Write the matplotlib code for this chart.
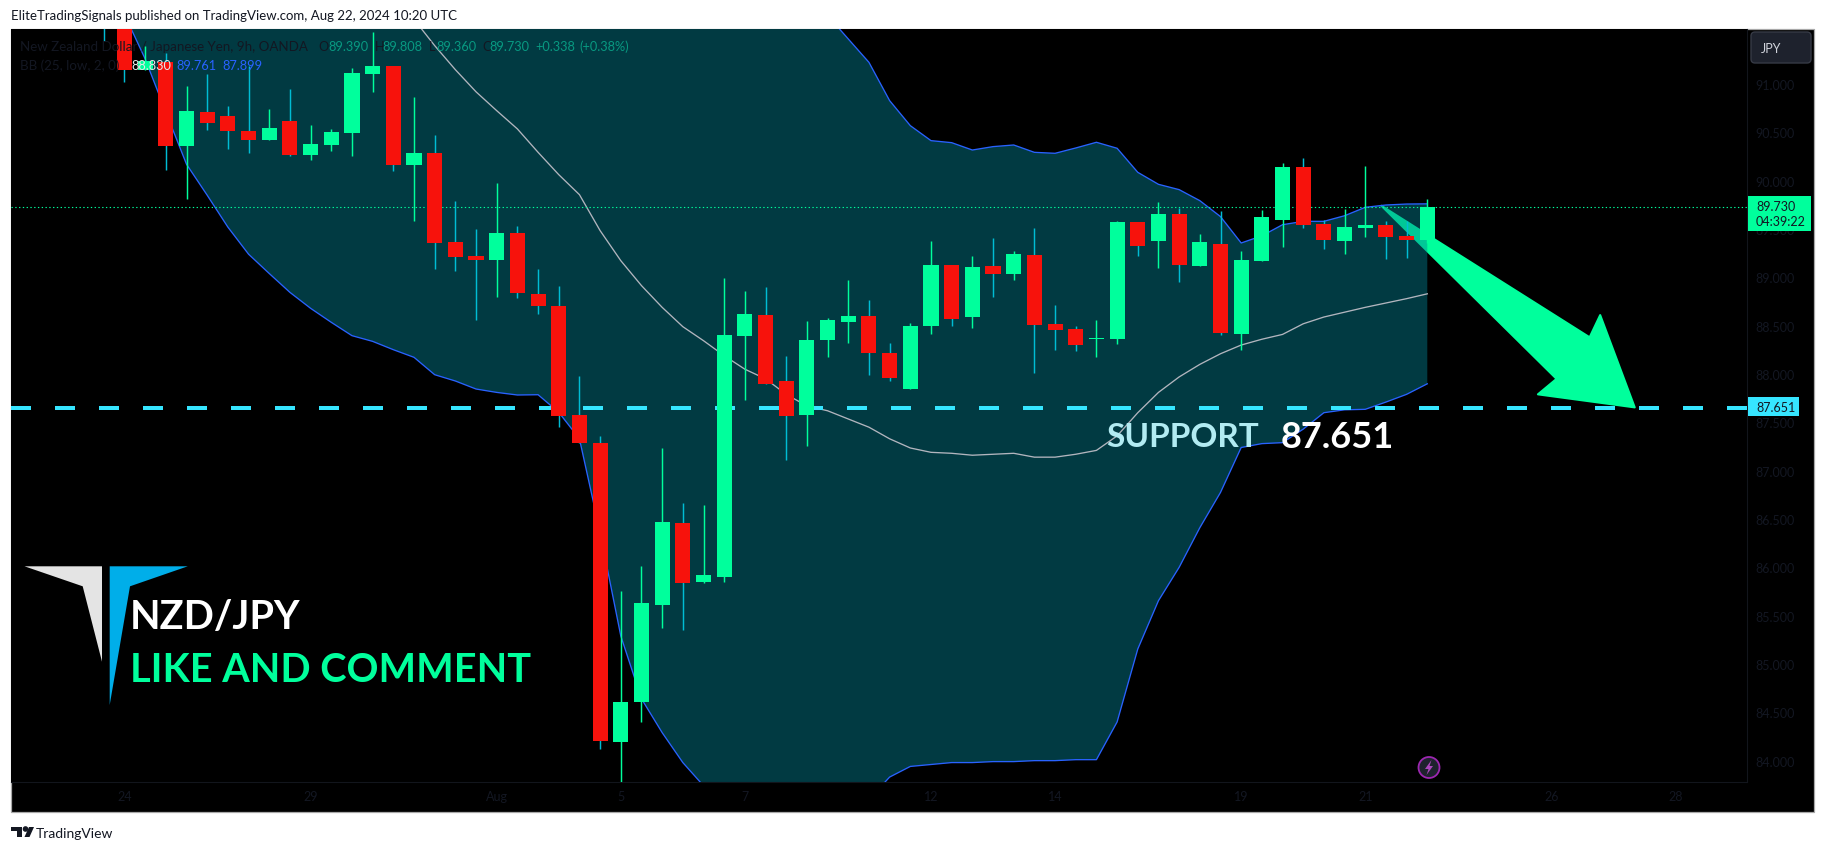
import matplotlib
matplotlib.use("Agg")
import matplotlib.pyplot as plt
from matplotlib.patches import Polygon, Rectangle, Circle, FancyBboxPatch
from matplotlib.transforms import Affine2D

W, H = 1826, 853
GREEN, RED, CYANW = "#00ff9c", "#f7120c", "#00bcd4"
DARK = "#131722"
FILLC = (4/255, 131/255, 147/255, 0.45)
FONT = "Lato"

# candle index 0..64
opens = [92.2, 91.9, 91.149, 91.225, 90.363, 90.71, 90.67, 90.515, 90.425, 90.62, 90.27, 90.37, 90.49,
         91.107, 91.187, 90.166, 90.29, 89.366, 89.22, 89.18, 89.46, 88.83, 88.70, 87.576, 87.285,
         84.196, 84.607, 85.61, 86.46, 85.848, 85.903, 88.394, 88.61, 87.93, 87.576, 88.352, 88.538,
         88.60, 88.218, 87.845, 88.497, 89.128, 88.59, 89.118, 89.035, 89.232, 88.518, 88.466, 88.36,
         88.362, 89.573, 89.376, 89.656, 89.118, 89.345, 88.414, 89.17, 89.594, 90.142, 89.552, 89.376,
         89.51, 89.542, 89.428, 89.39]
closes = [91.8, 91.149, 91.24, 90.363, 90.72, 90.60, 90.51, 90.425, 90.545, 90.27, 90.38, 90.50, 91.115,
          91.187, 90.166, 90.29, 89.36, 89.215, 89.18, 89.46, 88.84, 88.70, 87.57, 87.285, 84.206,
          84.607, 85.63, 86.47, 85.84, 85.92, 88.404, 88.62, 87.90, 87.566, 88.352, 88.559, 88.60,
          88.218, 87.96, 88.497, 89.128, 88.569, 89.107, 89.035, 89.242, 88.507, 88.456, 88.30, 88.372,
          89.573, 89.325, 89.656, 89.13, 89.366, 88.425, 89.18, 89.625, 90.142, 89.545, 89.387, 89.521,
          89.542, 89.418, 89.387, 89.73]
highs = [92.3, 92.0, 91.39, 91.32, 90.977, 91.10, 90.77, 91.19, 90.74, 90.95, 90.58, 90.535, 91.17,
         91.535, 91.187, 90.866, 90.47, 89.79, 89.50, 89.98, 89.53, 89.09, 88.91, 87.98, 87.355,
         85.755, 86.013, 87.23, 86.67, 86.65, 88.99, 88.855, 88.90, 88.19, 88.545, 88.58, 88.97,
         88.766, 88.32, 88.528, 89.376, 89.128, 89.22, 89.407, 89.273, 89.51, 88.714, 88.497, 88.559,
         89.583, 89.573, 89.78, 89.717, 89.45, 89.687, 89.273, 89.697, 90.183, 90.235, 89.594, 89.707,
         90.152, 89.583, 89.583, 89.808]
lows = [91.45, 91.018, 91.149, 90.115, 89.81, 90.53, 90.33, 90.29, 90.425, 90.26, 90.21, 90.31, 90.26,
        90.92, 90.10, 89.58, 89.09, 89.07, 88.56, 88.80, 88.79, 88.62, 87.455, 87.285, 84.12,
        83.78, 84.40, 85.37, 85.355, 85.835, 85.85, 87.735, 87.90, 87.114, 87.26, 88.176, 88.32,
        87.99, 87.93, 87.845, 88.414, 88.497, 88.476, 88.797, 88.973, 88.01, 88.249, 88.24, 88.176,
        88.31, 89.22, 89.097, 88.95, 89.118, 88.404, 88.25, 89.17, 89.314, 89.514, 89.294, 89.242,
        89.418, 89.19, 89.20, 89.36]

# Bollinger bands, candle index 1..64
upper = [92.6] * 33 + [92.0, 91.71, 91.467, 91.225, 90.829, 90.57, 90.415, 90.394, 90.318, 90.353, 90.37,
                       90.294, 90.284, 90.339, 90.398, 90.336, 90.087, 89.963, 89.908, 89.794, 89.629,
                       89.356, 89.43, 89.545, 89.58, 89.58, 89.638, 89.725, 89.749, 89.759, 89.761]
lower = [91.72, 91.26, 90.71, 90.17, 89.85, 89.52, 89.24, 89.04, 88.845, 88.68, 88.535, 88.397, 88.338,
         88.252, 88.173, 87.993, 87.928, 87.845, 87.81, 87.783, 87.786, 87.604, 87.33, 86.36, 85.29,
         84.64, 84.29, 83.98, 83.74, 83.5, 83.4, 83.3, 83.25, 83.25, 83.3, 83.4, 83.6, 83.83, 83.94,
         83.96, 83.98, 83.98, 83.99, 83.99, 84.0, 84.0, 84.01, 84.01, 84.40, 85.155, 85.655, 86.0,
         86.41, 86.775, 87.24, 87.28, 87.29, 87.43, 87.6, 87.63, 87.635, 87.71, 87.79, 87.899]
# basis, candle index 14..64
basis = [91.95, 91.67, 91.398, 91.149, 90.92, 90.725, 90.536, 90.294, 90.063, 89.856, 89.484, 89.173,
         88.915, 88.69, 88.49, 88.345, 88.19, 88.05, 87.95, 87.79, 87.67, 87.62, 87.535, 87.45, 87.33,
         87.235, 87.19, 87.18, 87.16, 87.17, 87.18, 87.14, 87.14, 87.17, 87.21, 87.36, 87.60, 87.81,
         87.97, 88.10, 88.21, 88.30, 88.36, 88.41, 88.52, 88.59, 88.64, 88.69, 88.735, 88.78, 88.83]

support = 87.651
last_price = 89.73
price_ticks = [84 + 0.5 * k for k in range(15)]
time_pos = [1, 10, 19, 25, 31, 40, 46, 55, 61, 70, 76]
time_labels = ["24", "29", "Aug", "5", "7", "12", "14", "19", "21", "26", "28"]
arrow_i = [61.78, 71.85, 72.36, 74.03, 69.35, 70.25]
arrow_p = [89.741, 88.38, 88.61, 87.655, 87.79, 87.95]

fig = plt.figure(figsize=(W / 100, H / 100), dpi=100, facecolor="white")
px = Affine2D().scale(1, -1).translate(0, H)

def poly(points, color, z=6, **kw):
    fig.add_artist(Polygon(points, closed=True, facecolor=color, edgecolor="none", transform=px, zorder=z, **kw))

def label(x, y, s, color=DARK, size=9.5, ha="left", family=FONT, weight="normal", z=8):
    return fig.text(x, y, s, transform=px, color=color, fontsize=size, ha=ha, va="center",
                    family=family, fontweight=weight, zorder=z)

# outer frame
fig.add_artist(Rectangle((11, 30), 1803, 783, transform=px, facecolor="black",
                         edgecolor="#a8a8a8", linewidth=0.9, zorder=-1))

ax = fig.add_axes([11 / W, (H - 783) / H, 1736 / W, 753 / H], facecolor="black")
ax.set_xlim(-4.488, 79.46)
ax.set_ylim(83.779, 91.570)

xs = list(range(len(opens)))
band_x = list(range(1, 65))
basis_x = list(range(14, 65))

ax.fill(arrow_i, arrow_p, color=GREEN, lw=1.5, joinstyle="round", zorder=1)
ax.fill_between(band_x, lower, upper, color=FILLC, lw=0, zorder=2)
ax.plot(band_x, upper, color="#2962ff", lw=0.95, zorder=3)
ax.plot(band_x, lower, color="#2962ff", lw=0.95, zorder=3)
ax.plot(basis_x, basis, color="#b2b5be", lw=0.95, zorder=3)

ax.axhline(last_price, color=GREEN, lw=0.8, linestyle=(0, (1.2, 2.2)), zorder=3.2)
ax.plot(ax.get_xlim(), [support, support], color="#36e5ff", lw=2.88, linestyle=(0, (5, 6)),
        dash_capstyle="butt", zorder=3.3)

cols = [GREEN if c >= o else RED for o, c in zip(opens, closes)]
wcols = [GREEN if c >= o else CYANW for o, c in zip(opens, closes)]
ax.vlines(xs, lows, highs, colors=wcols, lw=1.05, zorder=4)
ax.bar(xs, [abs(c - o) for o, c in zip(opens, closes)], bottom=[min(o, c) for o, c in zip(opens, closes)],
       width=0.73, color=cols, lw=0, zorder=5)

ax.yaxis.tick_right()
ax.set_yticks(price_ticks, [f"{p:.3f}" for p in price_ticks])
ax.set_xticks(time_pos, time_labels)
ax.tick_params(axis="y", length=0, pad=6, colors=DARK, labelsize=9, labelfontfamily=FONT)
ax.tick_params(axis="x", length=0, pad=6, colors=DARK, labelsize=9, labelfontfamily=FONT)
for s in ("left", "top"):
    ax.spines[s].set_visible(False)
for s in ("right", "bottom"):
    ax.spines[s].set_color("#12151c")
    ax.spines[s].set_linewidth(0.8)

# header / footer
label(11, 16.5, "EliteTradingSignals published on TradingView.com, Aug 22, 2024 10:20 UTC", size=9.5)
label(36, 834, "TradingView", size=10)
poly([(11, 828), (22, 828), (22, 838), (17, 838), (17, 832), (11, 832)], "#131722")
fig.add_artist(Circle((25.5, 830), 2.1, transform=px, color="#131722", zorder=6))
poly([(29, 828), (34, 828), (29.5, 838), (24.5, 838)], "#131722")

# legend lines
LEG = "#089981"
label(20, 46.7, "New Zealand Dollar / Japanese Yen, 9h, OANDA", size=9.6)
for x, s, c in [(318, "O", DARK), (328, "89.390", LEG), (375, "H", DARK), (382, "89.808", LEG),
                (429, "L", DARK), (436, "89.360", LEG), (482, "C", DARK), (489, "89.730", LEG),
                (535, "+0.338", LEG), (579, "(+0.38%)", LEG)]:
    label(x, 46.7, s, color=c, size=9.2)
label(20, 65.7, "BB (25, low, 2, 0)", size=9.6)
label(131, 65.7, "88.830", color="#e8e8e8", size=9.2)
label(176, 65.7, "89.761", color="#2962ff", size=9.2)
label(222, 65.7, "87.899", color="#2962ff", size=9.2)

# price tags
fig.add_artist(Rectangle((1748, 197), 63, 35, transform=px, facecolor=GREEN, edgecolor="none", zorder=6))
label(1756, 207, "89.730", color=DARK, size=9)
label(1756, 222, "04:39:22", color=DARK, size=9)
fig.add_artist(Rectangle((1748, 398), 51, 19, transform=px, facecolor="#36e5ff", edgecolor="none", zorder=6))
label(1756, 408, "87.651", color=DARK, size=9)

# JPY button
fig.add_artist(FancyBboxPatch((1753, 35), 56, 27, boxstyle="round,pad=2,rounding_size=4", transform=px,
                              facecolor="#1e222d", edgecolor="#363a45", linewidth=1, zorder=6))
label(1761, 49, "JPY", color="#d1d4dc", size=9)

# annotations
label(1106, 438, "SUPPORT", color="#b2ebf2", size=24, weight="bold", z=7)
label(1281, 438, "87.651", color="white", size=26, weight="bold", z=7)
label(130, 618, "NZD/JPY", color="white", size=28.5, weight="bold")
label(130, 671, "LIKE AND COMMENT", color=GREEN, size=28.5, weight="bold")
poly([(24.5, 567.3), (102, 567.3), (102, 662.7), (82.7, 587.3)], "#e4e4e4")
poly([(109.7, 567.3), (187.8, 567.3), (130, 587.3), (109.7, 706)], "#00aee9")

# lightning icon
fig.add_artist(Circle((1429, 768.5), 10.5, transform=px, facecolor="#1e222d", edgecolor="#9c27b0", lw=1.3, zorder=6))
poly([(1431.5, 761), (1425, 770), (1428.5, 770), (1426.5, 776), (1433, 767), (1429.5, 767)], "#ab47bc", z=7)

fig.savefig("out.png", dpi=100, facecolor="white")
